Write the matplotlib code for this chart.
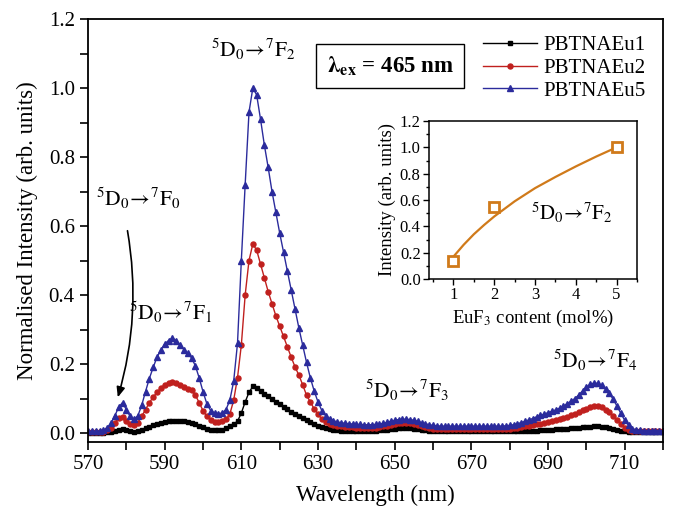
import numpy as np
import matplotlib
matplotlib.use("Agg")
import matplotlib.pyplot as plt
from matplotlib.ticker import MultipleLocator, FixedLocator, FormatStrFormatter

plt.rcParams['font.family'] = ['Liberation Serif', 'DejaVu Serif']
plt.rcParams['mathtext.fontset'] = 'stix'

wavelength = np.arange(570, 721, 1)

eu1 = [0.000, 0.000, 0.000, 0.001, 0.001, 0.002, 0.004, 0.007, 0.010, 0.011,
       0.008, 0.005, 0.004, 0.006, 0.010, 0.014, 0.018, 0.022, 0.026, 0.030,
       0.033, 0.035, 0.036, 0.036, 0.035, 0.034, 0.032, 0.029, 0.025, 0.021,
       0.017, 0.013, 0.010, 0.009, 0.009, 0.010, 0.014, 0.020, 0.026, 0.034,
       0.058, 0.090, 0.118, 0.135, 0.130, 0.122, 0.114, 0.106, 0.098, 0.090,
       0.083, 0.076, 0.069, 0.062, 0.056, 0.049, 0.043, 0.037, 0.032, 0.026,
       0.021, 0.017, 0.014, 0.011, 0.009, 0.008, 0.007, 0.007, 0.007, 0.007,
       0.007, 0.007, 0.007, 0.007, 0.007, 0.007, 0.008, 0.009, 0.010, 0.012,
       0.013, 0.014, 0.015, 0.015, 0.014, 0.013, 0.011, 0.010, 0.008, 0.007,
       0.005, 0.005, 0.005, 0.005, 0.005, 0.005, 0.005, 0.005, 0.005, 0.005,
       0.005, 0.005, 0.005, 0.005, 0.005, 0.005, 0.005, 0.005, 0.005, 0.005,
       0.005, 0.005, 0.005, 0.005, 0.006, 0.006, 0.007, 0.007, 0.008, 0.009,
       0.009, 0.010, 0.011, 0.011, 0.012, 0.013, 0.014, 0.015, 0.016, 0.017,
       0.018, 0.018, 0.019, 0.019, 0.018, 0.017, 0.015, 0.013, 0.010, 0.007,
       0.005, 0.003, 0.003, 0.003, 0.003, 0.003, 0.003, 0.003, 0.003, 0.003,
       0.003]

eu2 = [0.002, 0.002, 0.002, 0.003, 0.004, 0.008, 0.016, 0.030, 0.044, 0.047,
       0.036, 0.026, 0.023, 0.030, 0.048, 0.068, 0.088, 0.104, 0.118, 0.130,
       0.140, 0.146, 0.148, 0.145, 0.138, 0.132, 0.128, 0.124, 0.110, 0.088,
       0.065, 0.048, 0.038, 0.033, 0.032, 0.034, 0.040, 0.055, 0.095, 0.160,
       0.255, 0.400, 0.500, 0.548, 0.530, 0.490, 0.450, 0.410, 0.375, 0.340,
       0.310, 0.280, 0.250, 0.220, 0.192, 0.168, 0.140, 0.110, 0.090, 0.070,
       0.055, 0.040, 0.032, 0.027, 0.024, 0.021, 0.019, 0.018, 0.017, 0.017,
       0.016, 0.016, 0.016, 0.016, 0.016, 0.016, 0.017, 0.019, 0.021, 0.024,
       0.026, 0.028, 0.029, 0.029, 0.028, 0.026, 0.023, 0.020, 0.017, 0.015,
       0.013, 0.012, 0.012, 0.012, 0.012, 0.012, 0.012, 0.012, 0.012, 0.012,
       0.012, 0.012, 0.012, 0.012, 0.012, 0.012, 0.012, 0.012, 0.012, 0.012,
       0.013, 0.014, 0.015, 0.017, 0.019, 0.021, 0.023, 0.025, 0.027, 0.029,
       0.031, 0.034, 0.037, 0.040, 0.043, 0.047, 0.051, 0.056, 0.061, 0.066,
       0.071, 0.075, 0.077, 0.077, 0.074, 0.068, 0.060, 0.050, 0.038, 0.026,
       0.016, 0.010, 0.006, 0.005, 0.005, 0.005, 0.005, 0.005, 0.005, 0.005,
       0.005]

eu5 = [0.005, 0.005, 0.005, 0.006, 0.008, 0.015, 0.028, 0.050, 0.075, 0.088,
       0.068, 0.048, 0.040, 0.050, 0.080, 0.120, 0.158, 0.190, 0.220, 0.240,
       0.258, 0.268, 0.275, 0.268, 0.255, 0.242, 0.232, 0.218, 0.195, 0.160,
       0.120, 0.085, 0.065, 0.058, 0.056, 0.058, 0.068, 0.095, 0.150, 0.260,
       0.500, 0.720, 0.930, 1.000, 0.980, 0.910, 0.835, 0.770, 0.700, 0.640,
       0.580, 0.525, 0.470, 0.415, 0.360, 0.305, 0.255, 0.205, 0.160, 0.122,
       0.090, 0.065, 0.050, 0.042, 0.036, 0.032, 0.030, 0.028, 0.027, 0.026,
       0.025, 0.025, 0.024, 0.024, 0.024, 0.025, 0.026, 0.028, 0.031, 0.034,
       0.037, 0.039, 0.040, 0.040, 0.039, 0.037, 0.034, 0.030, 0.027, 0.024,
       0.022, 0.021, 0.020, 0.020, 0.020, 0.020, 0.020, 0.020, 0.020, 0.020,
       0.020, 0.020, 0.020, 0.020, 0.020, 0.020, 0.020, 0.020, 0.020, 0.021,
       0.022, 0.024, 0.027, 0.030, 0.034, 0.038, 0.042, 0.047, 0.051, 0.055,
       0.059, 0.063, 0.067, 0.072, 0.078, 0.085, 0.092, 0.100, 0.110, 0.122,
       0.133, 0.141, 0.145, 0.144, 0.138, 0.128, 0.115, 0.098, 0.078, 0.057,
       0.037, 0.022, 0.013, 0.009, 0.008, 0.007, 0.007, 0.007, 0.007, 0.007,
       0.007]

series_labels = ['PBTNAEu1', 'PBTNAEu2', 'PBTNAEu5']
x_major_ticks = [570, 590, 610, 630, 650, 670, 690, 710]
x_minor_ticks = [580, 600, 620, 640, 660, 680, 700, 720]

# inset data
eu_content = [1, 2, 5]
inset_intensity = [0.14, 0.55, 1.0]
fit_x = [1.0, 1.25, 1.5, 1.75, 2.0, 2.5, 3.0, 3.5, 4.0, 4.5, 5.0]
fit_y = [0.17, 0.26, 0.34, 0.41, 0.475, 0.59, 0.69, 0.775, 0.855, 0.93, 1.0]

fig = plt.figure(figsize=(6.73, 5.12), dpi=100)
ax = fig.add_axes([88/673, 1-442/512, (663-88)/673, (442-19)/512])

ax.plot(wavelength, eu1, color='black', marker='s', ms=3.2, lw=1.0, label=series_labels[0])
ax.plot(wavelength, eu2, color='#c0201e', marker='o', ms=3.6, lw=1.0, label=series_labels[1])
ax.plot(wavelength, eu5, color='#2b2b9c', marker='^', ms=4.8, lw=1.0, label=series_labels[2])

ax.set_xlim(570, 720)
ax.set_ylim(-0.026, 1.2)
ax.xaxis.set_major_locator(FixedLocator(x_major_ticks))
ax.xaxis.set_minor_locator(FixedLocator(x_minor_ticks))
ax.yaxis.set_major_locator(MultipleLocator(0.2))
ax.yaxis.set_minor_locator(MultipleLocator(0.1))
ax.tick_params(which='major', direction='out', length=6, width=1.2, labelsize=15)
ax.tick_params(which='minor', direction='out', length=6, width=1.2)
ax.yaxis.set_major_formatter(FormatStrFormatter('%.1f'))
for s in ax.spines.values():
    s.set_linewidth(1.3)
ax.set_xlabel('Wavelength (nm)', fontsize=16.5, labelpad=8)
ax.set_ylabel('Normalised Intensity (arb. units)', fontsize=16.5, labelpad=8)

leg = ax.legend(loc='upper right', frameon=False, fontsize=15, handlelength=2.6,
                borderaxespad=0.3, labelspacing=0.15, handletextpad=0.3,
                bbox_to_anchor=(0.995, 0.995))

def trans(j):
    return r'$^{5}\mathrm{D}_{0}\!\rightarrow\!^{7}\mathrm{F}_{%d}$' % j

def fxy(px, py):
    return (px/673, 1-py/512)

fig.text(*fxy(253, 49), trans(2), fontsize=15.5, ha='center', va='center')
fig.text(*fxy(138, 198), trans(0), fontsize=15.5, ha='center', va='center')
fig.text(*fxy(171, 312), trans(1), fontsize=15.5, ha='center', va='center')
fig.text(*fxy(407, 390), trans(3), fontsize=15.5, ha='center', va='center')
fig.text(*fxy(595, 360), trans(4), fontsize=15.5, ha='center', va='center')

fig.text(*fxy(390, 66), r'$\mathbf{\lambda_{ex}}$ = 465 nm', fontsize=16.5, fontweight='bold',
         ha='center', va='center',
         bbox=dict(boxstyle='square,pad=0.45', fc='white', ec='black', lw=1.0))

ax.annotate('', xy=fxy(117, 400), xytext=fxy(127, 228), xycoords='figure fraction',
            textcoords='figure fraction',
            arrowprops=dict(arrowstyle='-|>,head_length=0.6,head_width=0.25', color='black',
                            lw=1.2, connectionstyle='arc3,rad=-0.12'))

# inset
axi = fig.add_axes([429/673, 1-279/512, (637-429)/673, (279-121)/512])
axi.plot(fit_x, fit_y, color='#d07a1a', lw=1.6)
axi.plot(eu_content, inset_intensity, ls='none', marker='s', ms=7, mfc='white',
         mec='#d07a1a', mew=2.0)
axi.set_xlim(0.4, 5.5)
axi.set_ylim(0, 1.2)
axi.xaxis.set_major_locator(MultipleLocator(1))
axi.xaxis.set_minor_locator(MultipleLocator(0.5))
axi.yaxis.set_major_locator(MultipleLocator(0.2))
axi.yaxis.set_minor_locator(MultipleLocator(0.1))
axi.yaxis.set_major_formatter(FormatStrFormatter('%.1f'))
axi.tick_params(which='major', direction='out', length=4, width=1.0, labelsize=12, pad=2)
axi.tick_params(which='minor', direction='out', length=2.5, width=1.0)
for s in axi.spines.values():
    s.set_linewidth(1.1)
axi.set_xlabel(r'EuF$_3$ content (mol%)', fontsize=13.5, labelpad=3)
axi.set_ylabel('Intensity (arb. units)', fontsize=13.5, labelpad=3)
fig.text(*fxy(572, 213), trans(2), fontsize=15, ha='center', va='center')

fig.savefig('out.png', dpi=100)
